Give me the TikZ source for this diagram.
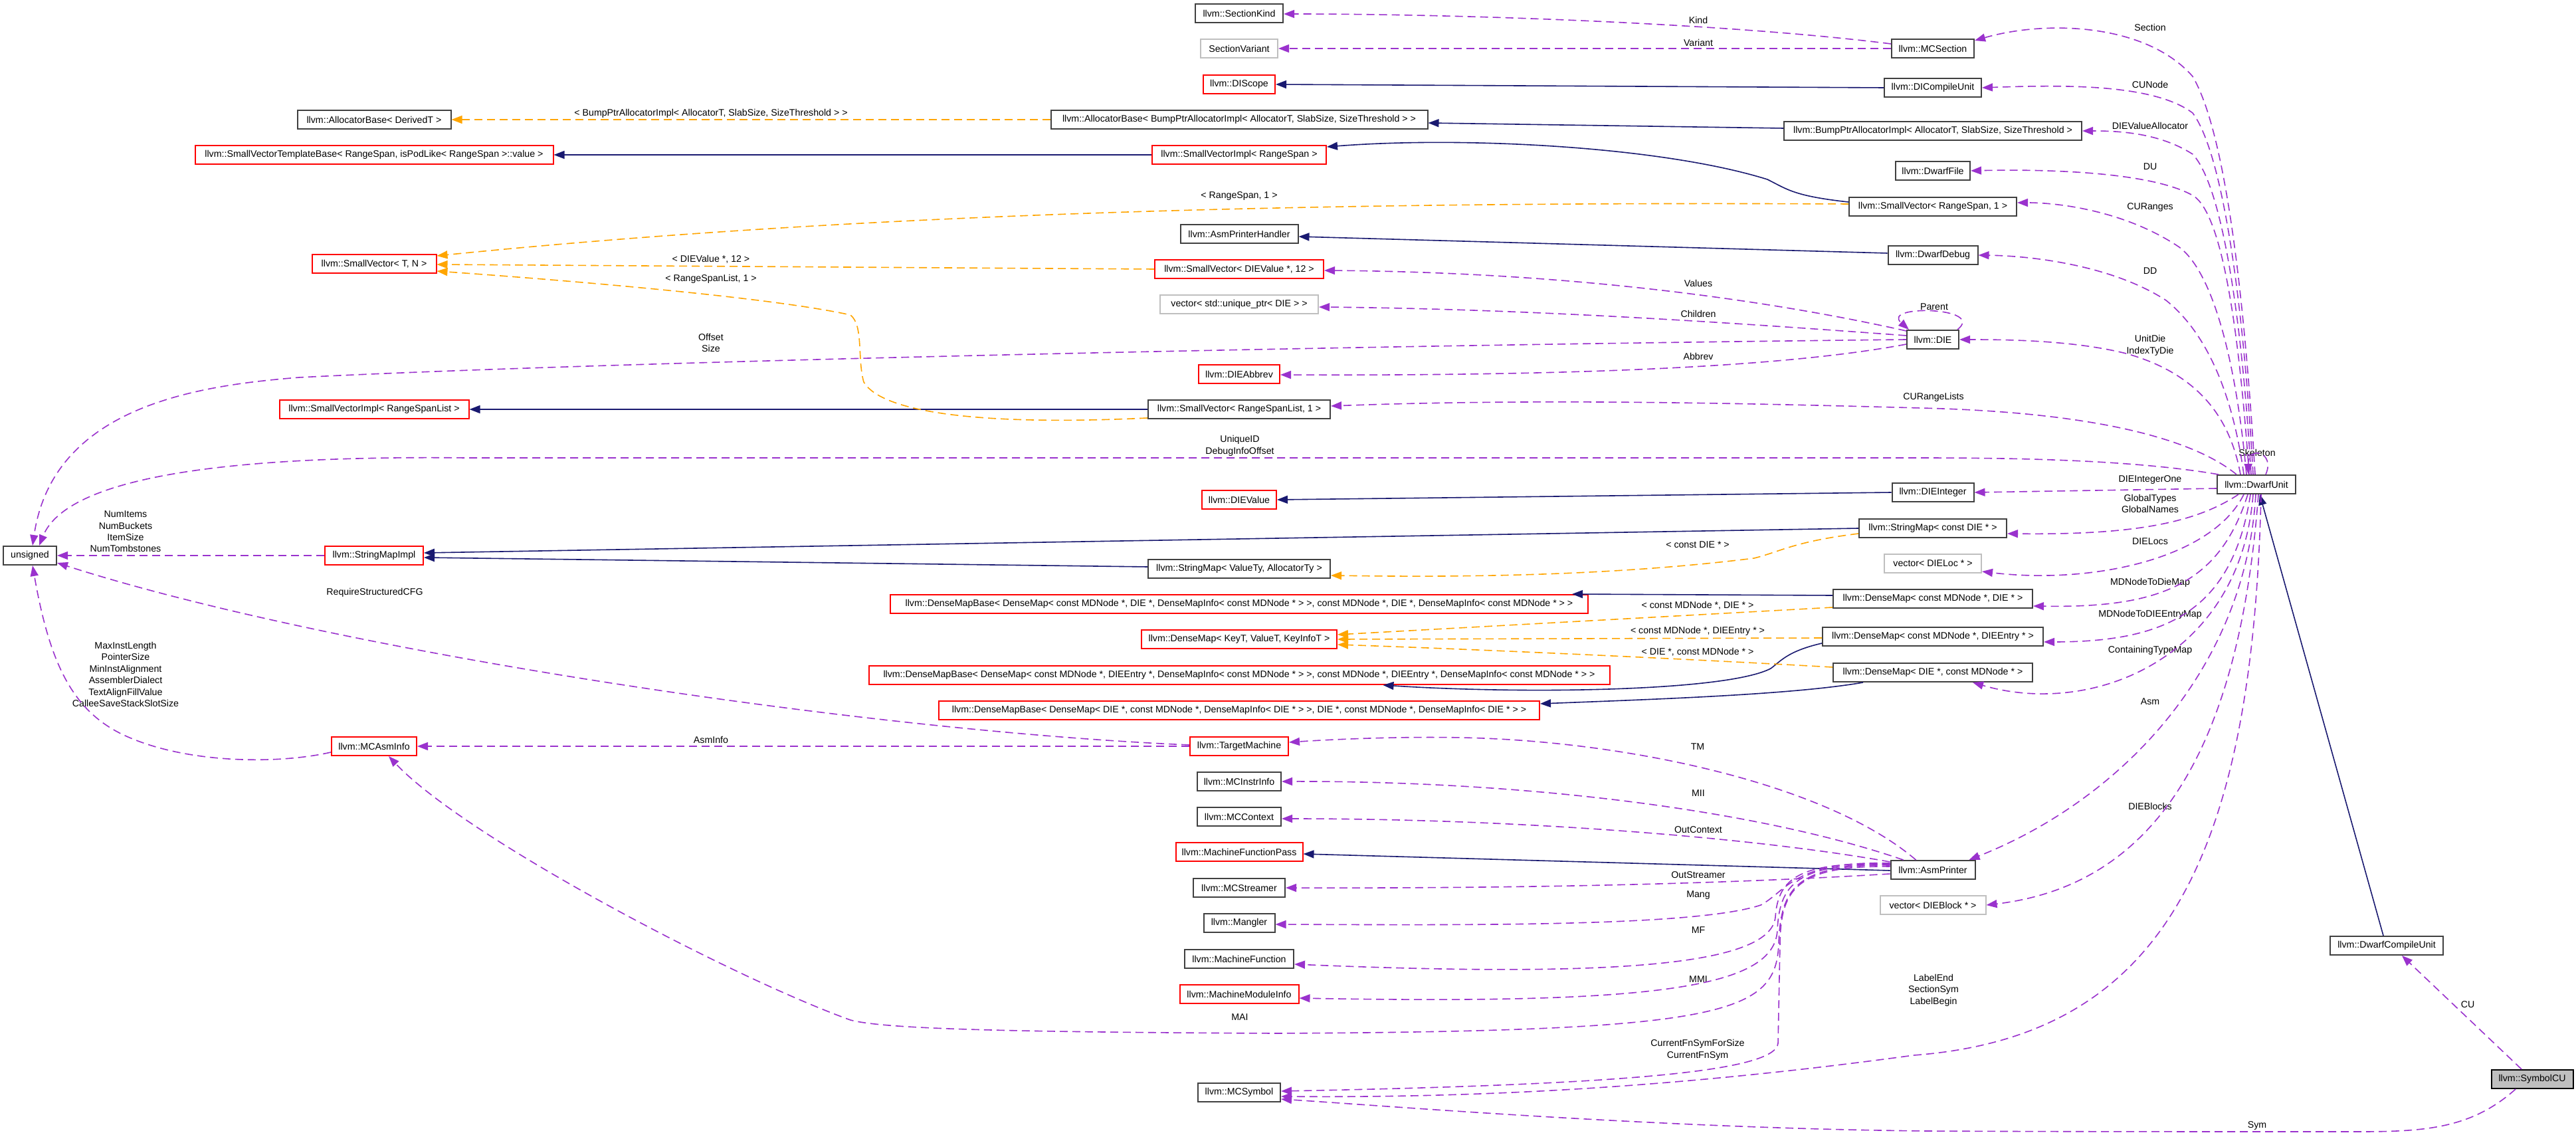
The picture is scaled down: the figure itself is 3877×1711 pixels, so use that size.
\documentclass[tikz,border=0pt]{standalone}
\usepackage{fontspec}
\setmainfont{Liberation Sans}
\usetikzlibrary{arrows.meta,calc}
\definecolor{epurple}{HTML}{9A32CD}
\definecolor{enavy}{HTML}{191970}
\definecolor{eorange}{HTML}{FFA500}
\definecolor{bred}{HTML}{FF0000}
\definecolor{bgray}{HTML}{BFBFBF}
\definecolor{bblack}{HTML}{404040}
\begin{document}
\begin{tikzpicture}[x=0.5pt,y=-0.5pt,
  cls/.style={draw=bblack,line width=1pt,rectangle,inner sep=0pt,minimum height=14pt,fill=white,font=\fontsize{7.1pt}{8.7pt}\selectfont},
  redcls/.style={cls,draw=bred},
  graycls/.style={cls,draw=bgray},
  focuscls/.style={cls,fill=bgray,draw=black},
  lbl/.style={inner sep=0pt,align=center,font=\fontsize{7.1pt}{8.7pt}\selectfont},
  uedge/.style={draw=epurple,line width=0.8pt,dash pattern=on 6pt off 3.5pt,-{Triangle[length=8pt,width=6pt]}},
  iedge/.style={draw=enavy,line width=0.8pt,-{Triangle[length=8pt,width=6pt]}},
  tedge/.style={draw=eorange,line width=0.8pt,dash pattern=on 6pt off 3.5pt,-{Triangle[length=8pt,width=6pt]}}]
\fill[white] (0,0) rectangle (3877,1711);
\useasboundingbox (0,0) rectangle (3877,1711);

% ---------- left column ----------
\node[cls,minimum width=115.5pt] (allocbase) at (563,180) {llvm::AllocatorBase< DerivedT >};
\node[redcls,minimum width=269.5pt] (svtb) at (563,233) {llvm::SmallVectorTemplateBase< RangeSpan, isPodLike< RangeSpan >::value >};
\node[redcls,minimum width=93.5pt] (svTN) at (563,397) {llvm::SmallVector< T, N >};
\node[redcls,minimum width=142.5pt] (svirsl) at (563,616) {llvm::SmallVectorImpl< RangeSpanList >};
\node[cls,minimum width=40pt] (unsigned) at (45,836) {unsigned};
\node[redcls,minimum width=74pt] (smimpl) at (563,836) {llvm::StringMapImpl};
\node[redcls,minimum width=64pt] (mcasminfo) at (563,1123) {llvm::MCAsmInfo};

% ---------- middle column ----------
\node[cls,minimum width=66pt] (sectionkind) at (1865,20) {llvm::SectionKind};
\node[graycls,minimum width=58pt] (sectionvariant) at (1865,73) {SectionVariant};
\node[redcls,minimum width=54pt] (discope) at (1865,127) {llvm::DIScope};
\node[cls,minimum width=283.5pt] (allocbump) at (1865,180) {llvm::AllocatorBase< BumpPtrAllocatorImpl< AllocatorT, SlabSize, SizeThreshold > >};
\node[redcls,minimum width=131pt] (svirs) at (1865,233) {llvm::SmallVectorImpl< RangeSpan >};
\node[cls,minimum width=88.5pt] (asmph) at (1865,352) {llvm::AsmPrinterHandler};
\node[redcls,minimum width=127pt] (svdv) at (1865,405) {llvm::SmallVector< DIEValue *, 12 >};
\node[graycls,minimum width=119pt] (vecdie) at (1865,458) {vector< std::unique\_ptr< DIE > >};
\node[redcls,minimum width=61pt] (dieabbrev) at (1865,563) {llvm::DIEAbbrev};
\node[cls,minimum width=137pt] (svrsl1) at (1865,616) {llvm::SmallVector< RangeSpanList, 1 >};
\node[redcls,minimum width=56pt] (dievalue) at (1865,752) {llvm::DIEValue};
\node[cls,minimum width=137pt] (smvt) at (1865,856) {llvm::StringMap< ValueTy, AllocatorTy >};
\node[redcls,minimum width=525pt] (dmb1) at (1865,909) {llvm::DenseMapBase< DenseMap< const MDNode *, DIE *, DenseMapInfo< const MDNode * > >, const MDNode *, DIE *, DenseMapInfo< const MDNode * > >};
\node[redcls,minimum width=147pt] (dmkv) at (1865,962) {llvm::DenseMap< KeyT, ValueT, KeyInfoT >};
\node[redcls,minimum width=557.5pt] (dmb2) at (1865,1016) {llvm::DenseMapBase< DenseMap< const MDNode *, DIEEntry *, DenseMapInfo< const MDNode * > >, const MDNode *, DIEEntry *, DenseMapInfo< const MDNode * > >};
\node[redcls,minimum width=452pt] (dmb3) at (1865,1069) {llvm::DenseMapBase< DenseMap< DIE *, const MDNode *, DenseMapInfo< DIE * > >, DIE *, const MDNode *, DenseMapInfo< DIE * > >};
\node[redcls,minimum width=74pt] (tm) at (1865,1123) {llvm::TargetMachine};
\node[cls,minimum width=63pt] (mcii) at (1865,1176) {llvm::MCInstrInfo};
\node[cls,minimum width=63pt] (mcctx) at (1865,1229) {llvm::MCContext};
\node[redcls,minimum width=95.5pt] (mfp) at (1865,1282) {llvm::MachineFunctionPass};
\node[cls,minimum width=69pt] (mcs) at (1865,1336) {llvm::MCStreamer};
\node[cls,minimum width=53.5pt] (mangler) at (1865,1389) {llvm::Mangler};
\node[cls,minimum width=82pt] (mf) at (1865,1443) {llvm::MachineFunction};
\node[redcls,minimum width=89.5pt] (mmi) at (1865,1496) {llvm::MachineModuleInfo};
\node[cls,minimum width=62pt] (mcsym) at (1865,1644) {llvm::MCSymbol};

% ---------- right column ----------
\node[cls,minimum width=62pt] (mcsection) at (2909,73) {llvm::MCSection};
\node[cls,minimum width=73pt] (dicu) at (2909,132) {llvm::DICompileUnit};
\node[cls,minimum width=224pt] (bumpimpl) at (2909,197) {llvm::BumpPtrAllocatorImpl< AllocatorT, SlabSize, SizeThreshold >};
\node[cls,minimum width=56pt] (dwarffile) at (2909,257) {llvm::DwarfFile};
\node[cls,minimum width=126pt] (svrs1) at (2909,311) {llvm::SmallVector< RangeSpan, 1 >};
\node[cls,minimum width=67.5pt] (dwarfdebug) at (2909,384) {llvm::DwarfDebug};
\node[cls,minimum width=39pt] (die) at (2909,511) {llvm::DIE};
\node[cls,minimum width=61.5pt] (dieint) at (2909,741) {llvm::DIEInteger};
\node[cls,minimum width=111pt] (smdie) at (2909,795) {llvm::StringMap< const DIE * >};
\node[graycls,minimum width=73pt] (vecloc) at (2909,848) {vector< DIELoc * >};
\node[cls,minimum width=150pt] (dm1) at (2909,901) {llvm::DenseMap< const MDNode *, DIE * >};
\node[cls,minimum width=166pt] (dm2) at (2909,958) {llvm::DenseMap< const MDNode *, DIEEntry * >};
\node[cls,minimum width=150pt] (dm3) at (2909,1012) {llvm::DenseMap< DIE *, const MDNode * >};
\node[cls,minimum width=63.5pt] (asmp) at (2909,1309) {llvm::AsmPrinter};
\node[graycls,minimum width=79.5pt] (vecblock) at (2909,1362) {vector< DIEBlock * >};

% ---------- far right ----------
\node[cls,minimum width=59pt] (du) at (3396,729) {llvm::DwarfUnit};
\node[cls,minimum width=85pt] (dcu) at (3592,1423) {llvm::DwarfCompileUnit};
\node[focuscls,minimum width=61.5pt] (symcu) at (3811,1624) {llvm::SymbolCU};

% ---------- labels ----------
\node[lbl] (lKind) at (2556,30) {Kind};
\node[lbl] (lVariant) at (2556,64) {Variant};
\node[lbl] (lSection) at (3236,41) {Section};
\node[lbl] (lCUNode) at (3236,127) {CUNode};
\node[lbl] (lDVA) at (3236,189) {DIEValueAllocator};
\node[lbl] (lDU) at (3236,251) {DU};
\node[lbl] (lCURanges) at (3236,312) {CURanges};
\node[lbl] (lDD) at (3236,408) {DD};
\node[lbl] (lUnitDie) at (3236,520) {UnitDie\\IndexTyDie};
\node[lbl] (lParent) at (2911,462) {Parent};
\node[lbl] (lValues) at (2556,426) {Values};
\node[lbl] (lChildren) at (2556,472) {Children};
\node[lbl] (lAbbrev) at (2556,536) {Abbrev};
\node[lbl] (lOffset) at (1070,516) {Offset\\Size};
\node[lbl] (lCURL) at (2910,598) {CURangeLists};
\node[lbl] (lUniqueID) at (1866,671) {UniqueID\\DebugInfoOffset};
\node[lbl] (lSkeleton) at (3397,681) {Skeleton};
\node[lbl] (lDIO) at (3236,722) {DIEIntegerOne};
\node[lbl] (lGlobal) at (3236,758) {GlobalTypes\\GlobalNames};
\node[lbl] (lDIELocs) at (3236,815) {DIELocs};
\node[lbl] (lMDDie) at (3236,877) {MDNodeToDieMap};
\node[lbl] (lMDEntry) at (3236,925) {MDNodeToDIEEntryMap};
\node[lbl] (lCTM) at (3236,979) {ContainingTypeMap};
\node[lbl] (lAsm) at (3236,1056) {Asm};
\node[lbl] (lDIEBlocks) at (3236,1213) {DIEBlocks};
\node[lbl] (lLabel) at (2910,1490) {LabelEnd\\SectionSym\\LabelBegin};
\node[lbl] (lCU) at (3714,1512) {CU};
\node[lbl] (lSym) at (3397,1694) {Sym};
\node[lbl] (lMII) at (2556,1194) {MII};
\node[lbl] (lOutContext) at (2556,1249) {OutContext};
\node[lbl] (lOutStreamer) at (2556,1317) {OutStreamer};
\node[lbl] (lMang) at (2556,1347) {Mang};
\node[lbl] (lMF) at (2556,1400) {MF};
\node[lbl] (lMMI) at (2556,1474) {MMI};
\node[lbl] (lCurFn) at (2555,1580) {CurrentFnSymForSize\\CurrentFnSym};
\node[lbl] (lMAI) at (1866,1531) {MAI};
\node[lbl] (lTM) at (2555,1124) {TM};
\node[lbl] (lAsmInfo) at (1070,1113) {AsmInfo};
\node[lbl] (lRSCFG) at (564,892) {RequireStructuredCFG};
\node[lbl] (lNum) at (189,800) {NumItems\\NumBuckets\\ItemSize\\NumTombstones};
\node[lbl] (lMax) at (189,1015) {MaxInstLength\\PointerSize\\MinInstAlignment\\AssemblerDialect\\TextAlignFillValue\\CalleeSaveStackSlotSize};
\node[lbl] (lBump) at (1070,171) {< BumpPtrAllocatorImpl< AllocatorT, SlabSize, SizeThreshold > >};
\node[lbl] (lRS1) at (1865,295) {< RangeSpan, 1 >};
\node[lbl] (lDV12) at (1070,390) {< DIEValue *, 12 >};
\node[lbl] (lRSL1) at (1070,420) {< RangeSpanList, 1 >};
\node[lbl] (lcDIE) at (2555,820) {< const DIE * >};
\node[lbl] (lMDDIE) at (2555,911) {< const MDNode *, DIE * >};
\node[lbl] (lMDEnt) at (2555,950) {< const MDNode *, DIEEntry * >};
\node[lbl] (lDIEMD) at (2555,981) {< DIE *, const MDNode * >};

% ---------- inheritance (solid navy) ----------
\draw[iedge] (dicu.west) -- (discope.east);
\draw[iedge] ($(bumpimpl.west)+(0,-4)$) -- ($(allocbump.east)+(0,5)$);
\draw[iedge] (svirs.west) -- (svtb.east);
\draw[iedge] ($(svrs1.west)+(0,-7)$) .. controls (2700,295) and (2690,285) .. (2660,270) .. controls (2500,220) and (2200,205) .. ($(svirs.east)+(0,-12)$);
\draw[iedge] ($(dwarfdebug.west)+(0,-3)$) -- ($(asmph.east)+(0,4)$);
\draw[iedge] (dieint.west) -- (dievalue.east);
\draw[iedge] (svrsl1.west) -- (svirsl.east);
\draw[iedge] (smdie.west) -- ($(smimpl.east)+(0,-4)$);
\draw[iedge] ($(smvt.west)+(0,-3)$) -- ($(smimpl.east)+(0,3)$);
\draw[iedge] ($(dm1.west)+(0,-5)$) -- ($(dmb1.north east)+(-25,0)$);
\draw[iedge] ($(dm2.west)+(0,10)$) .. controls (2690,980) and (2680,995) .. (2665,1006) .. controls (2600,1040) and (2300,1045) .. ($(dmb2.south east)+(-342,0)$);
\draw[iedge] ($(dm3.south west)+(46,0)$) .. controls (2700,1045) and (2500,1052) .. ($(dmb3.east)+(0,-10)$);
\draw[iedge] ($(asmp.west)+(0,1)$) -- ($(mfp.east)+(0,3)$);
\draw[iedge] ($(dcu.north)+(-5,0)$) -- ($(du.south)+(5,0)$);

% ---------- template instantiation (dashed orange) ----------
\draw[tedge] (allocbump.west) -- (allocbase.east);
\draw[tedge] ($(svrs1.west)+(0,-4)$) .. controls (2000,303) and (1300,320) .. ($(svTN.east)+(0,-12)$);
\draw[tedge] (svdv.west) -- ($(svTN.east)+(0,1)$);
\draw[tedge] ($(svrsl1.south west)+(0,-2)$) .. controls (1500,640) and (1330,625) .. (1300,575) .. controls (1290,540) and (1300,490) .. (1280,474) .. controls (1150,445) and (800,418) .. ($(svTN.east)+(0,11)$);
\draw[tedge] ($(smdie.west)+(0,8)$) .. controls (2700,815) and (2680,830) .. (2640,840) .. controls (2400,870) and (2150,868) .. ($(smvt.east)+(0,10)$);
\draw[tedge] ($(dm1.west)+(0,13)$) -- ($(dmkv.east)+(0,-7)$);
\draw[tedge] ($(dm2.west)+(0,2)$) -- (dmkv.east);
\draw[tedge] ($(dm3.west)+(0,-8)$) .. controls (2600,995) and (2300,980) .. ($(dmkv.east)+(0,8)$);

% ---------- usage (dashed purple) ----------
\draw[uedge] ($(mcsection.west)+(0,-7)$) .. controls (2600,35) and (2200,21) .. ($(sectionkind.east)+(0,1)$);
\draw[uedge] (mcsection.west) -- (sectionvariant.east);
% from DwarfUnit top
\draw[uedge] ($(du.north)+(-2,0)$) .. controls (3378,450) and (3350,200) .. (3300,115) .. controls (3230,35) and (3080,30) .. ($(mcsection.east)+(0,-12)$);
\draw[uedge] ($(du.north)+(-5,0)$) .. controls (3376,450) and (3345,230) .. (3300,170) .. controls (3240,125) and (3100,128) .. (dicu.east);
\draw[uedge] ($(du.north)+(-8,0)$) .. controls (3374,480) and (3345,280) .. (3300,232) .. controls (3250,200) and (3190,197) .. (bumpimpl.east);
\draw[uedge] ($(du.north)+(-11,0)$) .. controls (3370,500) and (3345,320) .. (3300,294) .. controls (3230,255) and (3050,255) .. (dwarffile.east);
\draw[uedge] ($(du.north)+(-15,0)$) .. controls (3365,540) and (3330,410) .. (3280,372) .. controls (3200,318) and (3100,305) .. ($(svrs1.east)+(0,-6)$);
\draw[uedge] ($(du.north)+(-19,0)$) .. controls (3360,590) and (3320,500) .. (3260,452) .. controls (3180,400) and (3060,385) .. (dwarfdebug.east);
\draw[uedge] ($(du.north)+(-24,0)$) .. controls (3355,620) and (3300,560) .. (3200,532) .. controls (3120,512) and (3020,511) .. (die.east);
\draw[uedge] ($(du.north)+(-30,0)$) .. controls (3300,660) and (3150,620) .. (2890,614) .. controls (2600,606) and (2300,600) .. ($(svrsl1.east)+(0,-5)$);
\draw[uedge] ($(du.north west)+(3,0)$) .. controls (3200,690) and (3000,689) .. (2880,689) -- (700,689) .. controls (330,685) and (100,720) .. ($(unsigned.north)+(14,0)$);
\draw[uedge] ($(du.north)+(14,0)$) .. controls (3425,680) and (3383,670) .. ($(du.north)+(-12,0)$);
% from DwarfUnit left / bottom
\draw[uedge] ($(du.west)+(0,6)$) -- (dieint.east);
\draw[uedge] ($(du.south west)+(33,0)$) .. controls (3300,790) and (3200,805) .. ($(smdie.east)+(0,8)$);
\draw[uedge] ($(du.south west)+(41,0)$) .. controls (3330,840) and (3150,880) .. ($(vecloc.east)+(0,12)$);
\draw[uedge] ($(du.south west)+(47,0)$) .. controls (3340,880) and (3250,915) .. ($(dm1.east)+(0,11)$);
\draw[uedge] ($(du.south west)+(51,0)$) .. controls (3360,920) and (3260,966) .. ($(dm2.east)+(0,8)$);
\draw[uedge] ($(du.south west)+(55,0)$) .. controls (3372,990) and (3150,1080) .. ($(dm3.south)+(60,0)$);
\draw[uedge] ($(du.south west)+(59,0)$) .. controls (3380,1000) and (3200,1200) .. ($(asmp.north east)+(-10,0)$);
\draw[uedge] ($(du.south west)+(63,0)$) .. controls (3372,1100) and (3260,1330) .. (vecblock.east);
\draw[uedge] ($(du.south west)+(67,0)$) .. controls (3390,1300) and (3250,1560) .. (2880,1588) .. controls (2500,1640) and (2200,1652) .. ($(mcsym.east)+(0,6)$);
% from DIE
\draw[uedge] ($(die.north east)+(-3,0)$) .. controls (2990,462) and (2830,458) .. ($(die.north west)+(4,0)$);
\draw[uedge] ($(die.north west)+(0,2)$) .. controls (2700,460) and (2400,410) .. ($(svdv.east)+(0,2)$);
\draw[uedge] ($(die.west)+(0,-6)$) .. controls (2600,485) and (2300,465) .. ($(vecdie.east)+(0,4)$);
\draw[uedge] (die.west) .. controls (2000,520) and (900,545) .. (450,568) .. controls (300,580) and (80,610) .. ($(unsigned.north)+(4,0)$);
\draw[uedge] ($(die.west)+(0,7)$) .. controls (2700,550) and (2400,566) .. ($(dieabbrev.east)+(0,1)$);
% from AsmPrinter
\draw[uedge] ($(asmp.north west)+(39,0)$) .. controls (2750,1180) and (2450,1115) .. (2200,1110) .. controls (2100,1108) and (2000,1113) .. ($(tm.east)+(0,-6)$);
\draw[uedge] ($(asmp.north west)+(20,0)$) .. controls (2650,1220) and (2300,1175) .. (mcii.east);
\draw[uedge] ($(asmp.north west)+(0,3)$) .. controls (2650,1262) and (2300,1232) .. ($(mcctx.east)+(0,3)$);
\draw[uedge] ($(asmp.west)+(0,6)$) .. controls (2600,1330) and (2300,1337) .. (mcs.east);
\draw[uedge] ($(asmp.west)+(0,-10)$) .. controls (2700,1295) and (2690,1340) .. (2650,1362) .. controls (2550,1395) and (2200,1392) .. ($(mangler.east)+(0,2)$);
\draw[uedge] ($(asmp.west)+(0,-9)$) .. controls (2710,1297) and (2676,1320) .. (2672,1380) .. controls (2665,1450) and (2450,1472) .. ($(mf.east)+(0,8)$);
\draw[uedge] ($(asmp.west)+(0,-8)$) .. controls (2705,1299) and (2678,1330) .. (2675,1400) .. controls (2670,1485) and (2500,1512) .. ($(mmi.east)+(0,6)$);
\draw[uedge] ($(asmp.west)+(0,-7)$) .. controls (2700,1300) and (2680,1340) .. (2677,1420) .. controls (2673,1525) and (2600,1552) .. (1920,1555) .. controls (1500,1553) and (1330,1548) .. (1280,1535) .. controls (1100,1470) and (700,1260) .. ($(mcasminfo.south)+(22,0)$);
\draw[uedge] ($(asmp.west)+(0,-5)$) .. controls (2702,1302) and (2680,1340) .. (2679,1420) -- (2676,1570) .. controls (2672,1612) and (2450,1632) .. ($(mcsym.east)+(0,-2)$);
% from TargetMachine, MCAsmInfo, StringMapImpl
\draw[uedge] ($(tm.west)+(0,-2)$) .. controls (1300,1100) and (500,980) .. ($(unsigned.east)+(0,11)$);
\draw[uedge] (tm.west) -- (mcasminfo.east);
\draw[uedge] ($(mcasminfo.south west)+(0,-6)$) .. controls (420,1150) and (280,1150) .. (186,1106) .. controls (110,1070) and (75,1000) .. ($(unsigned.south)+(4,0)$);
\draw[uedge] (smimpl.west) -- (unsigned.east);
% from SymbolCU
\draw[uedge] ($(symcu.north)+(-16,0)$) -- ($(dcu.south)+(23,0)$);
\draw[uedge] ($(symcu.south)+(-25,0)$) .. controls (3720,1698) and (3650,1703) .. (3550,1703) .. controls (3300,1703) and (3100,1703) .. (2900,1702) .. controls (2500,1698) and (2100,1665) .. ($(mcsym.east)+(0,10)$);
\end{tikzpicture}
\end{document}
